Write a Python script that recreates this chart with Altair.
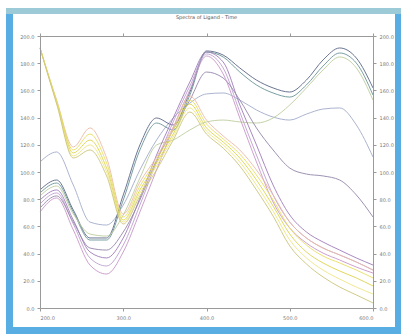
import altair as alt
import pandas as pd

wavelength = [200, 220, 240, 260, 280, 300, 320, 340, 360, 380, 400,
              420, 440, 460, 480, 500, 520, 540, 560, 580, 600]

# purple / blue family
p1 = [107.4, 114.7, 90.4, 63.2, 61.0, 75.7, 101.5, 123.5, 139.7, 150.7, 157.4,
      158.1, 152.9, 145.6, 140.4, 138.2, 142.6, 146.3, 147.1, 134.6, 111.0]
p2 = [86.8, 94.1, 72.1, 51.5, 51.5, 83.1, 119.9, 139.7, 134.6, 158.8, 189.0,
      186.0, 176.5, 167.6, 161.8, 158.8, 167.6, 182.4, 191.2, 183.8, 161.8]
p3 = [84.6, 91.9, 70.6, 50.0, 50.0, 79.4, 116.2, 136.0, 130.9, 156.6, 188.2,
      184.6, 173.5, 164.0, 158.1, 155.1, 164.0, 177.9, 187.5, 180.1, 156.6]
p4 = [82.4, 89.7, 69.1, 54.4, 52.9, 68.4, 95.6, 119.9, 123.5, 130.9, 136.8,
      138.2, 136.8, 136.0, 139.7, 149.3, 161.8, 175.0, 184.6, 176.5, 152.9]
p5 = [79.4, 86.8, 64.7, 41.2, 36.8, 51.5, 80.9, 112.5, 139.7, 166.2, 188.2,
      180.9, 149.3, 119.9, 90.4, 68.4, 55.9, 48.5, 42.6, 36.8, 31.6]
p6 = [76.5, 84.6, 61.8, 36.8, 30.9, 46.3, 75.7, 107.4, 136.8, 163.2, 186.8,
      176.5, 144.1, 112.5, 83.1, 63.2, 51.5, 44.1, 39.0, 33.8, 27.9]
p7 = [73.5, 82.4, 63.2, 44.1, 42.6, 55.9, 79.4, 108.8, 130.9, 152.9, 173.5,
      169.1, 152.9, 132.4, 116.2, 102.9, 98.5, 97.1, 94.1, 83.1, 66.9]
p8 = [70.6, 80.9, 57.4, 31.6, 25.0, 41.2, 70.6, 101.5, 132.4, 160.3, 185.3,
      172.1, 139.7, 107.4, 77.9, 58.8, 47.8, 40.4, 35.3, 30.1, 25.7]

# yellow family
y1 = [191.2, 152.9, 118.4, 132.4, 110.3, 69.1, 92.6, 111.0, 133.1, 155.9, 138.2,
      126.5, 116.2, 101.5, 83.1, 63.2, 51.5, 44.1, 39.0, 33.8, 27.9]
y2 = [191.2, 152.2, 116.2, 127.9, 106.6, 66.9, 89.7, 108.8, 130.9, 152.9, 135.3,
      124.3, 113.2, 97.8, 79.4, 58.8, 46.3, 38.2, 33.1, 27.9, 22.1]
y3 = [191.2, 151.5, 114.0, 123.5, 102.9, 64.7, 86.8, 106.6, 127.9, 150.0, 132.4,
      122.1, 110.3, 94.1, 75.0, 54.4, 41.2, 33.1, 27.2, 22.1, 16.2]
y4 = [191.2, 150.7, 111.8, 119.9, 100.0, 63.2, 84.6, 104.4, 125.7, 147.1, 130.1,
      119.9, 107.4, 90.4, 71.3, 50.0, 36.8, 27.9, 21.3, 15.4, 10.3]
y5 = [191.2, 150.0, 110.3, 116.2, 97.1, 61.8, 82.4, 101.5, 123.5, 144.1, 127.9,
      117.6, 104.4, 86.8, 67.6, 45.6, 32.4, 22.8, 15.4, 9.6, 3.7]

series_names = ["a01", "a02", "a03", "a04", "a05", "a06", "a07", "a08",
                "b01", "b02", "b03", "b04", "b05"]
series_values = [p1, p2, p3, p4, p5, p6, p7, p8, y1, y2, y3, y4, y5]
series_colors = ["#a2acca", "#5a6686", "#6a9498", "#bccd9c", "#a07cba",
                 "#bea0d0", "#9486aa", "#c896c8",
                 "#ebbaa6", "#e8de60", "#dcd44e", "#eee684", "#ccc47a"]

x_ticks = [200, 300, 400, 500, 600]
y_ticks = [0, 20, 40, 60, 80, 100, 120, 140, 160, 180, 200]
title_text = ["Spectra of Ligand - Time"]

rows = []
for name, vals in zip(series_names, series_values):
    for w, v in zip(wavelength, vals):
        rows.append({"wl": w, "abs": v, "s": name})
df = pd.DataFrame(rows)

W, H = 333, 272
PL, PT, PR, PB = 40, 36, 28, 26

one = pd.DataFrame({"k": [0]})
outer = alt.Chart(one).mark_rect(color="#58ade2").encode(
    x=alt.value(6 - PL), x2=alt.value(401 - PL),
    y=alt.value(8 - PT), y2=alt.value(334 - PT))
band = alt.Chart(one).mark_rect(color="#9ccad6").encode(
    x=alt.value(6 - PL), x2=alt.value(401 - PL),
    y=alt.value(8 - PT), y2=alt.value(14 - PT))
inner = alt.Chart(one).mark_rect(color="#ffffff").encode(
    x=alt.value(13 - PL), x2=alt.value(395 - PL),
    y=alt.value(14 - PT), y2=alt.value(327 - PT))
title_mark = alt.Chart(pd.DataFrame({"t": title_text})).mark_text(
    fontSize=5, color="#555555", font="DejaVu Sans", baseline="middle",
    align="center").encode(
    text="t:N", x=alt.value(W / 2), y=alt.value(17 - PT))

xscale = alt.Scale(domain=[200, 600], nice=False, zero=False)
yscale = alt.Scale(domain=[0, 200], nice=False)
cscale = alt.Scale(domain=series_names, range=series_colors)

axis_common = dict(domainColor="#9a9a9a", tickColor="#9a9a9a", tickSize=3,
                   labelFontSize=5, labelColor="#7a7a7a", grid=False,
                   labelFont="DejaVu Sans", zindex=1, title=None)

lines = alt.Chart(df).mark_line(strokeWidth=1.0, opacity=0.9,
                                interpolate="monotone").encode(
    x=alt.X("wl:Q", scale=xscale,
            axis=alt.Axis(orient="bottom", values=x_ticks, format=".1f",
                          labelPadding=4, **axis_common)),
    y=alt.Y("abs:Q", scale=yscale,
            axis=alt.Axis(orient="left", values=y_ticks, format=".1f",
                          labelPadding=3, **axis_common)),
    color=alt.Color("s:N", scale=cscale, legend=None),
    detail="s:N",
)

frame_axes = alt.Chart(df).mark_line(opacity=0).encode(
    x=alt.X("wl:Q", scale=xscale,
            axis=alt.Axis(orient="top", values=x_ticks, labels=False,
                          **axis_common)),
    y=alt.Y("abs:Q", scale=yscale,
            axis=alt.Axis(orient="right", values=y_ticks, format=".1f",
                          labelPadding=3, **axis_common)),
    detail="s:N",
)

chart = alt.layer(outer, band, inner, title_mark, lines, frame_axes).resolve_axis(
    x="independent", y="independent"
).properties(
    width=W, height=H,
    padding={"left": PL, "top": PT, "right": PR, "bottom": PB},
    autosize=alt.AutoSizeParams(type="none"),
    background="#ffffff",
).configure_view(stroke=None)

chart.save("out.html", embed_options={"renderer": "svg", "actions": False})
